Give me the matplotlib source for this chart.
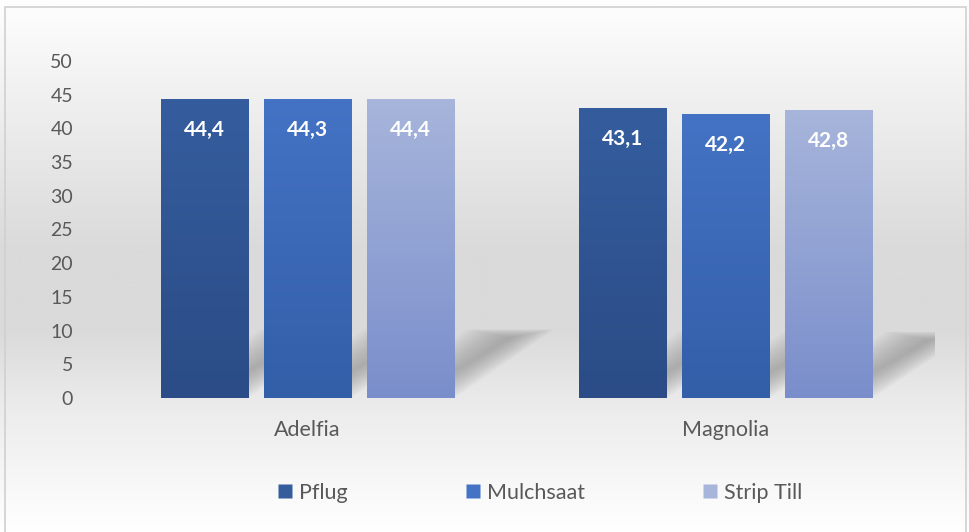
import numpy as np
import matplotlib
matplotlib.use('Agg')
import matplotlib.pyplot as plt
from matplotlib.colors import LinearSegmentedColormap
from matplotlib.patches import Polygon, Rectangle
from matplotlib.lines import Line2D

# data
sorten = ['Adelfia', 'Magnolia']
serien = ['Pflug', 'Mulchsaat', 'Strip Till']
werte = {
    'Pflug': [44.4, 43.1],
    'Mulchsaat': [44.3, 42.2],
    'Strip Till': [44.4, 42.8],
}
yticks = [0, 5, 10, 15, 20, 25, 30, 35, 40, 45, 50]

# farben (oben, unten)
farben = {
    'Pflug': ('#355d9e', '#2b4c86'),
    'Mulchsaat': ('#4473c5', '#335ea8'),
    'Strip Till': ('#a7b5db', '#7a8ecb'),
}

plt.rcParams['font.family'] = ['Lato', 'DejaVu Sans']

fig = plt.figure(figsize=(9.7, 5.32), dpi=100)

# hintergrund mit verlauf
bg = fig.add_axes([0, 0, 1, 1], zorder=-10)
stops = [(0.0, '#fefefe'), (0.47, '#dadada'), (0.62, '#dadada'), (0.76, '#ebebeb'), (1.0, '#ffffff')]
bgmap = LinearSegmentedColormap.from_list('bg', stops)
bg.imshow(np.linspace(0, 1, 256).reshape(-1, 1), aspect='auto', cmap=bgmap,
          extent=[0, 1, 0, 1], origin='upper')
bg.add_patch(Rectangle((5 / 970, -0.01), 961 / 970, 1 - 7 / 532 + 0.01, fill=False,
                       edgecolor='#d0d0d0', lw=1.2, transform=bg.transAxes))
bg.set_xlim(0, 1)
bg.set_ylim(0, 1)
bg.axis('off')

ax = fig.add_axes([98 / 970, 1 - 398 / 532, 837 / 970, 337 / 532])
ax.patch.set_alpha(0)

x = np.arange(len(sorten))
breite = 0.208
abstand = 0.2464

for i, s in enumerate(serien):
    pos = x + (i - 1) * abstand
    oben, unten = farben[s]
    cmap = LinearSegmentedColormap.from_list(s, [unten, oben])
    bars = ax.bar(pos, werte[s], width=breite, color=oben, zorder=3)
    for b, v in zip(bars, werte[s]):
        x0 = b.get_x()
        x1 = x0 + b.get_width()
        # schatten am boden
        tiefe = v * 0.23
        dx = 0.24
        for k in range(14):
            sh = k * 0.008
            poly = Polygon([(x0 + sh, 0), (x1 - sh, 0), (x1 + dx - sh, tiefe - sh * 12),
                            (x0 + dx + sh, tiefe - sh * 12)],
                           closed=True, facecolor='#888888', edgecolor='none',
                           alpha=0.06, zorder=1)
            ax.add_patch(poly)
        im = ax.imshow(np.linspace(0, 1, 100).reshape(-1, 1), aspect='auto', cmap=cmap,
                       extent=[x0, x1, 0, v], origin='lower', zorder=4)
        im.set_clip_path(b)
        ax.text(b.get_x() + b.get_width() / 2, v - 4.6, f'{v:.1f}'.replace('.', ','),
                ha='center', va='center', color='white', fontsize=15,
                fontweight='bold', zorder=5)

ax.set_xlim(-0.5, 1.5)
ax.set_ylim(0, 50)
ax.set_yticks(yticks)
ax.set_xticks(x)
ax.set_xticklabels(sorten, fontsize=15.5)
ax.tick_params(axis='both', length=0, labelcolor='#595959')
ax.tick_params(axis='y', pad=18, labelsize=14)
ax.tick_params(axis='x', pad=16)
for sp in ax.spines.values():
    sp.set_visible(False)

handles = [Line2D([], [], marker='s', linestyle='none', markersize=10,
                  markerfacecolor=farben[s][0], markeredgecolor='none') for s in serien]
leg = fig.legend(handles, serien, loc='center', bbox_to_anchor=(540 / 970, 1 - 493 / 532),
                 ncol=3, frameon=False, fontsize=15.5, columnspacing=5.45,
                 handlelength=0.7, handletextpad=0.3)
for t in leg.get_texts():
    t.set_color('#595959')

fig.savefig('out.png', dpi=100)
